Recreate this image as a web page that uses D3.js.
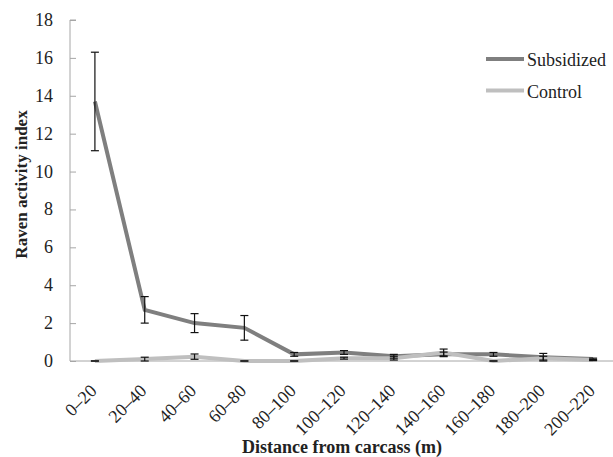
<!DOCTYPE html>
<html lang="en">
<head>
    <meta charset="UTF-8">
    <title>Raven activity index</title>
    <script src="https://d3js.org/d3.v7.min.js"></script>
    <style>
        body { margin: 0; background: #fff; }
    </style>
</head>
<body>
    <svg width="613" height="457" font-family="'Liberation Serif', 'Times New Roman', 'DejaVu Serif', serif"></svg>

    <script>
        // Distance classes
        const categories = ["0–20", "20–40", "40–60", "60–80", "80–100", "100–120",
                            "120–140", "140–160", "160–180", "180–200", "200–220"];

        // Subsidized sites
        const subsidized    = [13.7, 2.7, 2.0, 1.75, 0.35, 0.45, 0.25, 0.35, 0.35, 0.2, 0.1];
        const subsidizedErr = [2.6, 0.7, 0.5, 0.65, 0.1, 0.1, 0.1, 0.12, 0.1, 0.2, 0.05];

        // Control sites
        const control    = [0.0, 0.1, 0.23, 0.0, 0.0, 0.15, 0.15, 0.45, 0.0, 0.15, 0.05];
        const controlErr = [0, 0.1, 0.14, 0, 0, 0.05, 0.1, 0.18, 0, 0.1, 0.03];

        const yTicks = [0, 2, 4, 6, 8, 10, 12, 14, 16, 18];

        const margin = { top: 20, right: 0, bottom: 96, left: 70 };
        const width = 548;
        const height = 341;

        const svg = d3.select("svg")
            .append("g")
            .attr("transform", `translate(${margin.left},${margin.top})`)
            .attr("fill", "#222");

        const x = d3.scaleBand()
            .domain(categories)
            .range([0, width]);

        const y = d3.scaleLinear()
            .domain([0, 18])
            .range([height, 0]);

        const cx = d => x(d) + x.bandwidth() / 2;

        // Y axis (ticks point inward)
        const yAxis = svg.append("g")
            .call(d3.axisRight(y).tickValues(yTicks).tickSize(6).tickFormat(""));
        yAxis.select(".domain").attr("stroke", "#a6a6a6").attr("d", `M6,0H0V${height}`);
        yAxis.selectAll(".tick line").attr("stroke", "#a6a6a6");

        svg.selectAll(".ylab")
            .data(yTicks)
            .join("text")
            .attr("class", "ylab")
            .attr("x", -17)
            .attr("y", d => y(d) + 6)
            .attr("text-anchor", "end")
            .style("font-size", "18px")
            .text(d => d);

        // X axis
        svg.append("line")
            .attr("x1", 0)
            .attr("x2", 613 - margin.left)
            .attr("y1", height)
            .attr("y2", height)
            .attr("stroke", "#a6a6a6");

        svg.selectAll(".xlab")
            .data(categories)
            .join("text")
            .attr("class", "xlab")
            .attr("transform", d => `translate(${cx(d) - 6},${height + 22}) rotate(-45)`)
            .attr("text-anchor", "end")
            .attr("dy", "0.7em")
            .style("font-size", "18px")
            .text(d => d);

        // Lines
        const line = d3.line()
            .x((d, i) => cx(categories[i]))
            .y(d => y(d));

        svg.append("path")
            .datum(subsidized)
            .attr("d", line)
            .attr("fill", "none")
            .attr("stroke", "#7f7f7f")
            .attr("stroke-width", 4);

        svg.append("path")
            .datum(control)
            .attr("d", line)
            .attr("fill", "none")
            .attr("stroke", "#bfbfbf")
            .attr("stroke-width", 4);

        // Error bars
        function errorBars(values, errs, cls) {
            const g = svg.selectAll("." + cls)
                .data(values.map((v, i) => ({ c: categories[i], v: v, e: errs[i] })))
                .join("g")
                .attr("class", cls)
                .attr("stroke", "#111")
                .attr("stroke-width", 1.2);
            g.append("line")
                .attr("x1", d => cx(d.c)).attr("x2", d => cx(d.c))
                .attr("y1", d => y(d.v + d.e)).attr("y2", d => y(Math.max(0, d.v - d.e)));
            g.append("line")
                .attr("x1", d => cx(d.c) - 4).attr("x2", d => cx(d.c) + 4)
                .attr("y1", d => y(d.v + d.e)).attr("y2", d => y(d.v + d.e));
            g.append("line")
                .attr("x1", d => cx(d.c) - 4).attr("x2", d => cx(d.c) + 4)
                .attr("y1", d => y(Math.max(0, d.v - d.e))).attr("y2", d => y(Math.max(0, d.v - d.e)));
        }
        errorBars(subsidized, subsidizedErr, "errS");
        errorBars(control, controlErr, "errC");

        // Axis titles
        svg.append("text")
            .attr("transform", "rotate(-90)")
            .attr("x", -height / 2 + 6)
            .attr("y", -margin.left + 27)
            .attr("text-anchor", "middle")
            .style("font-size", "17px")
            .style("font-weight", "bold")
            .text("Raven activity index");

        svg.append("text")
            .attr("x", width / 2 - 2)
            .attr("y", height + 92)
            .attr("text-anchor", "middle")
            .style("font-size", "18px")
            .style("font-weight", "bold")
            .text("Distance from carcass (m)");

        // Legend
        const legend = [
            { name: "Subsidized", color: "#7f7f7f", y: 39 },
            { name: "Control", color: "#bfbfbf", y: 70.5 }
        ];
        legend.forEach(l => {
            svg.append("line")
                .attr("x1", 416).attr("x2", 454)
                .attr("y1", l.y).attr("y2", l.y)
                .attr("stroke", l.color)
                .attr("stroke-width", 4);
            svg.append("text")
                .attr("x", 457)
                .attr("y", l.y + 7)
                .style("font-size", "18px")
                .text(l.name);
        });
    </script>
</body>
</html>
